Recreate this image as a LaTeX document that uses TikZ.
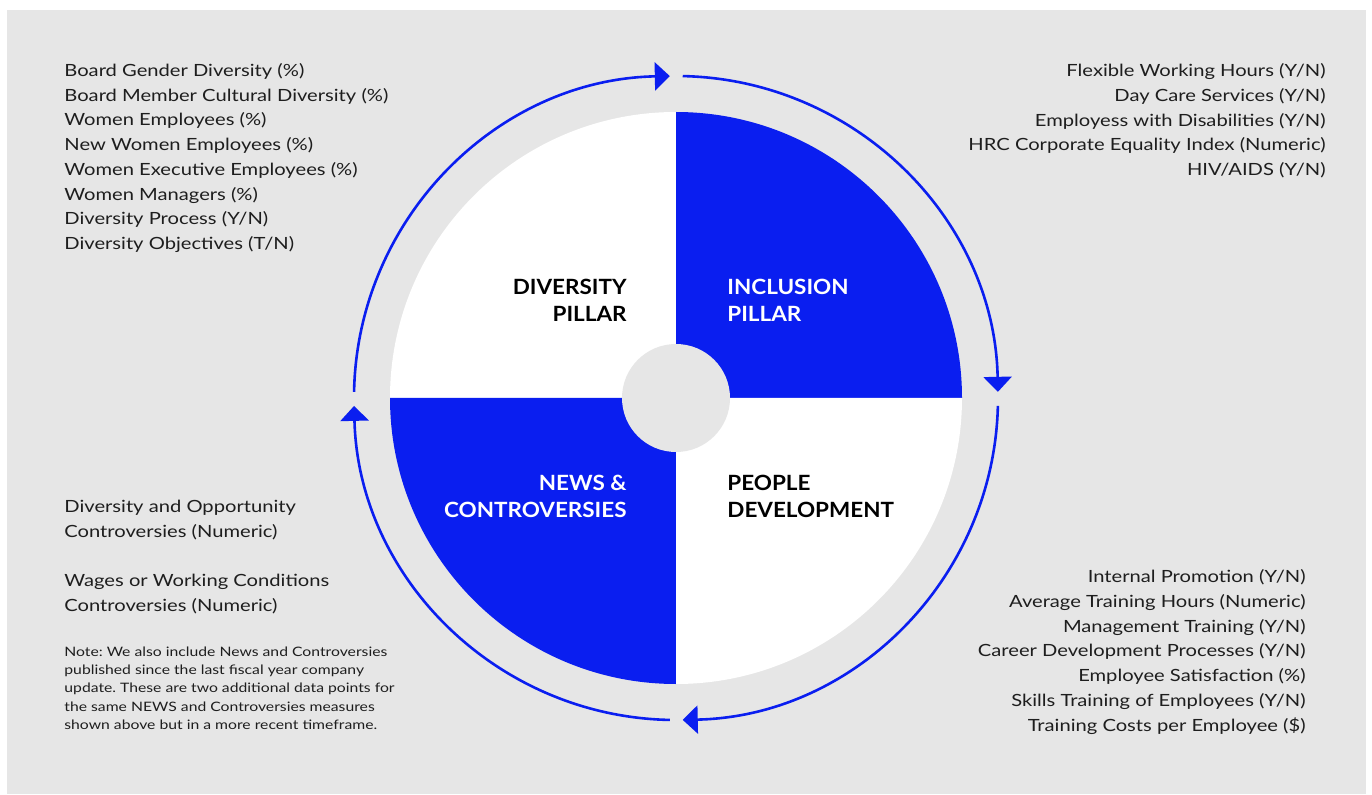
\documentclass[tikz,border=0pt]{standalone}
\usepackage{fontspec}
\setmainfont{Lato}
\newfontfamily\listfont{Lato}[FakeStretch=1.2]
\newfontfamily\notefont{Lato}[FakeStretch=1.21]
\newfontfamily\pillarfont{Lato}[FakeStretch=1.07]
\usetikzlibrary{arrows.meta}
\frenchspacing
\definecolor{pillarblue}{RGB}{10,30,240}
\definecolor{panelgray}{RGB}{230,230,230}
\definecolor{ink}{RGB}{30,30,30}
\tikzset{
  ring/.style={pillarblue, line width=1.3pt, -{Triangle[length=7.5pt,width=14pt]}},
  itemlist/.style={inner sep=0pt, text=ink, font=\listfont\fontsize{8.4}{12.35}\selectfont},
  pillar/.style={inner sep=0pt, font=\pillarfont\fontsize{10.5}{13.5}\selectfont\bfseries},
  notetext/.style={inner sep=0pt, text=ink, font=\notefont\fontsize{6.5}{9.15}\selectfont, align=left}
}
\begin{document}
\begin{tikzpicture}[x=0.5pt, y=0.5pt]
\fill[white] (0,0) rectangle (1372,794);
\fill[panelgray] (7,0) rectangle (1366,784);
\coordinate (c) at (676,396);
% pie quarters
\fill[white] (c) -- ++(90:286) arc[start angle=90, end angle=180, radius=286] -- cycle;
\fill[pillarblue] (c) -- ++(0:286) arc[start angle=0, end angle=90, radius=286] -- cycle;
\fill[pillarblue] (c) -- ++(180:286) arc[start angle=180, end angle=270, radius=286] -- cycle;
\fill[white] (c) -- ++(270:286) arc[start angle=270, end angle=360, radius=286] -- cycle;
\fill[panelgray] (c) circle[radius=54];
% outer ring
\draw[ring] ([shift={(178.9:322)}]c) arc[start angle=178.9, end angle=91.1, radius=322];
\draw[ring] ([shift={(88.8:322)}]c) arc[start angle=88.8, end angle=1.1, radius=322];
\draw[ring] ([shift={(-1.4:322)}]c) arc[start angle=-1.4, end angle=-88.8, radius=322];
\draw[ring] ([shift={(-91.1:322)}]c) arc[start angle=-91.1, end angle=-178.6, radius=322];
% pillar names
\node[pillar, align=right, anchor=east] (diversity) at (627,493.5) {DIVERSITY\\PILLAR};
\node[pillar, align=left, anchor=west, white] (inclusion) at (727,493.5) {INCLUSION\\PILLAR};
\node[pillar, align=right, anchor=east, white] (news) at (627,297.5) {NEWS \&\\CONTROVERSIES};
\node[pillar, align=left, anchor=west] (people) at (727,297.5) {PEOPLE\\DEVELOPMENT};
% measures
\node[itemlist, align=left, anchor=west] (divlist) at (64,636) {Board Gender Diversity (\%)\\Board Member Cultural Diversity (\%)\\Women Employees (\%)\\New Women Employees (\%)\\Women Executive Employees (\%)\\Women Managers (\%)\\Diversity Process (Y/N)\\Diversity Objectives (T/N)};
\node[itemlist, align=right, anchor=east] (inclist) at (1326,673) {Flexible Working Hours (Y/N)\\Day Care Services (Y/N)\\Employess with Disabilities (Y/N)\\HRC Corporate Equality Index (Numeric)\\HIV/AIDS (Y/N)};
\node[itemlist, align=right, anchor=east] (devlist) at (1306,142) {Internal Promotion (Y/N)\\Average Training Hours (Numeric)\\Management Training (Y/N)\\Career Development Processes (Y/N)\\Employee Satisfaction (\%)\\Skills Training of Employees (Y/N)\\Training Costs per Employee (\$)};
\node[itemlist, align=left, anchor=west] (newslist1) at (64,274) {Diversity and Opportunity\\Controversies (Numeric)};
\node[itemlist, align=left, anchor=west] (newslist2) at (64,200) {Wages or Working Conditions\\Controversies (Numeric)};
\node[notetext, anchor=west] (note) at (64,106) {Note: We also include News and Controversies\\published since the last fiscal year company\\update. These are two additional data points for\\the same NEWS and Controversies measures\\shown above but in a more recent timeframe.};
\end{tikzpicture}
\end{document}
